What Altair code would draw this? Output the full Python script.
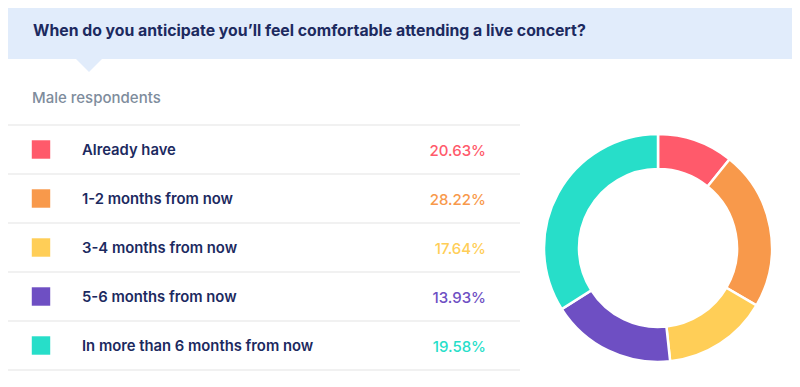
import altair as alt
import pandas as pd

title_text = "When do you anticipate you’ll feel comfortable attending a live concert?"
subtitle_text = "Male respondents"
categories = [
    "Already have",
    "1-2 months from now",
    "3-4 months from now",
    "5-6 months from now",
    "In more than 6 months from now",
]
pct_labels = ["20.63%", "28.22%", "17.64%", "13.93%", "19.58%"]
# slice sizes as drawn in the donut (in %)
donut_shares = [10.8, 22.6, 14.9, 17.7, 34.0]
colors = ["#ff5a6b", "#f8994b", "#ffce57", "#6e4fc3", "#27dec9"]

rows = pd.DataFrame({
    "cat": categories,
    "pct": pct_labels,
    "share": donut_shares,
    "idx": list(range(len(categories))),
})
rows["mid"] = rows["idx"] + 0.5
sep = pd.DataFrame({"k": list(range(len(categories) + 1))})
one = pd.DataFrame({"t": [title_text], "s": [subtitle_text]})

FONT = "Inter"
NAVY = "#1c2a5f"
BAND = "#e1ecfb"

yscale = alt.Scale(domain=[0, len(categories)], range=[117, 362], nice=False, zero=False)
cscale = alt.Scale(domain=categories, range=colors)
ymid = alt.Y("mid:Q", scale=yscale, axis=None)
col = alt.Color("cat:N", scale=cscale, legend=None)

band = alt.Chart(one).mark_rect(color=BAND).encode(
    x=alt.value(0), x2=alt.value(784), y=alt.value(0), y2=alt.value(51)
)
pointer = alt.Chart(one).mark_point(
    shape="M-1,-0.5L1,-0.5L0,0.5Z", size=676, filled=True, color=BAND, opacity=1
).encode(x=alt.value(81), y=alt.value(57.5))

title = alt.Chart(one).mark_text(
    align="left", baseline="alphabetic", font=FONT, fontSize=15.8, fontWeight="bold", color=NAVY
).encode(x=alt.value(25), y=alt.value(28), text="t:N")

subtitle = alt.Chart(one).mark_text(
    align="left", baseline="alphabetic", font=FONT, fontSize=15, fontWeight=500, color="#7e8c9c"
).encode(x=alt.value(24), y=alt.value(95), text="s:N")

rules = alt.Chart(sep).mark_rule(color="#e3e3e3", strokeWidth=1).encode(
    y=alt.Y("k:Q", scale=yscale, axis=None), x=alt.value(0), x2=alt.value(512)
)

squares = alt.Chart(rows).mark_square(size=340, opacity=1).encode(
    x=alt.value(33), y=ymid, color=col
)

labels = alt.Chart(rows).mark_text(
    align="left", baseline="middle", font=FONT, fontSize=14.8, fontWeight=600, color=NAVY, dy=1
).encode(x=alt.value(74), y=ymid, text="cat:N")

pcts = alt.Chart(rows).mark_text(
    align="right", baseline="middle", font=FONT, fontSize=15, fontWeight=500, dy=1
).encode(x=alt.value(478), y=ymid, text="pct:N", color=col)

donut = alt.Chart(rows).mark_arc(
    innerRadius=79, outerRadius=114, stroke="white", strokeWidth=2.5
).encode(
    theta=alt.Theta("share:Q", stack=True),
    order=alt.Order("idx:Q"),
    color=col,
    x=alt.value(650),
    y=alt.value(240),
)

chart = alt.layer(
    band, pointer, title, subtitle, rules, squares, labels, pcts, donut
).properties(
    width=784,
    height=371,
    padding=0,
    background="white",
    autosize=alt.AutoSizeParams(type="none"),
).configure_view(strokeWidth=0)

chart.save("out.html", embed_options={"renderer": "svg", "actions": False})
